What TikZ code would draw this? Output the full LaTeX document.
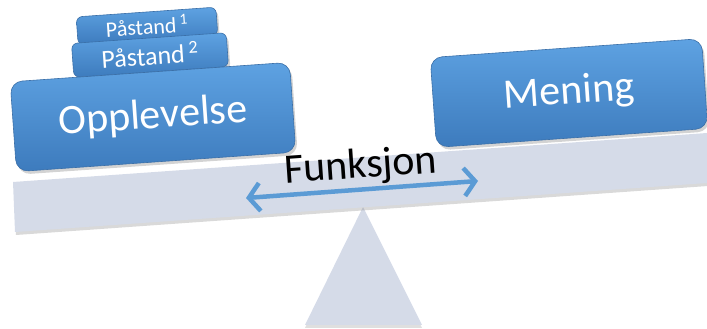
\documentclass[tikz,border=0pt]{standalone}
\usepackage{fontspec}
\setmainfont{Carlito}
\usetikzlibrary{arrows.meta,shadows}
\definecolor{boxtop}{HTML}{5EA2E2}
\definecolor{boxbot}{HTML}{3D7BBD}
\definecolor{boxedge}{HTML}{3A6FA8}
\definecolor{beamcol}{HTML}{D5DBE8}
\definecolor{arrowcol}{HTML}{5B9BD5}
\tikzset{
  bluebox/.style={rounded corners=#1, top color=boxtop, bottom color=boxbot, draw=boxedge, line width=0.6pt,
    text=white, rotate=4, inner sep=0pt,
    drop shadow={opacity=0.35, shadow xshift=2pt, shadow yshift=-3pt}},
  bigtext/.style={font=\fontsize{42}{50}\selectfont},
  midtext/.style={font=\fontsize{26}{30}\selectfont},
  smalltext/.style={font=\fontsize{22}{26}\selectfont},
  beamstyle/.style={fill=beamcol, draw=none, drop shadow={opacity=0.3, shadow xshift=1pt, shadow yshift=-3pt}},
  mybarb/.tip={Straight Barb[length=11pt,width=28pt]},
}
\begin{document}
\begin{tikzpicture}[x=1pt,y=1pt]
\useasboundingbox (0,0) rectangle (707,329);
% fulcrum
\fill[beamcol, drop shadow={opacity=0.25, shadow xshift=0pt, shadow yshift=-3pt}] (305,4) -- (363,122) -- (422,4) -- cycle;
% beam
\path[beamstyle] (13,147) -- (707,196) -- (707,146) -- (15,97) -- cycle;
% boxes
\node[bluebox=6pt, smalltext, minimum width=140pt, minimum height=28pt] (p1) at (147,303) {Påstand\,\textsuperscript{1}};
\node[bluebox=6pt, midtext, minimum width=155pt, minimum height=34pt] (p2) at (150,274) {Påstand\,\textsuperscript{2}};
\node[bluebox=12pt, bigtext, minimum width=280pt, minimum height=90pt] (opp) at (153,212) {Opplevelse};
\node[bluebox=12pt, bigtext, minimum width=272pt, minimum height=90pt] (men) at (569,236) {Mening};
% function label and arrow
\node[rotate=4, font=\fontsize{42}{50}\selectfont, inner sep=0pt] (fun) at (361,162) {Funksjon};
\coordinate (arrL) at (246,131);
\coordinate (arrR) at (478,148);
\draw[arrowcol, line width=4.5pt, {mybarb}-{mybarb}] (arrL) -- (arrR);
\end{tikzpicture}
\end{document}
